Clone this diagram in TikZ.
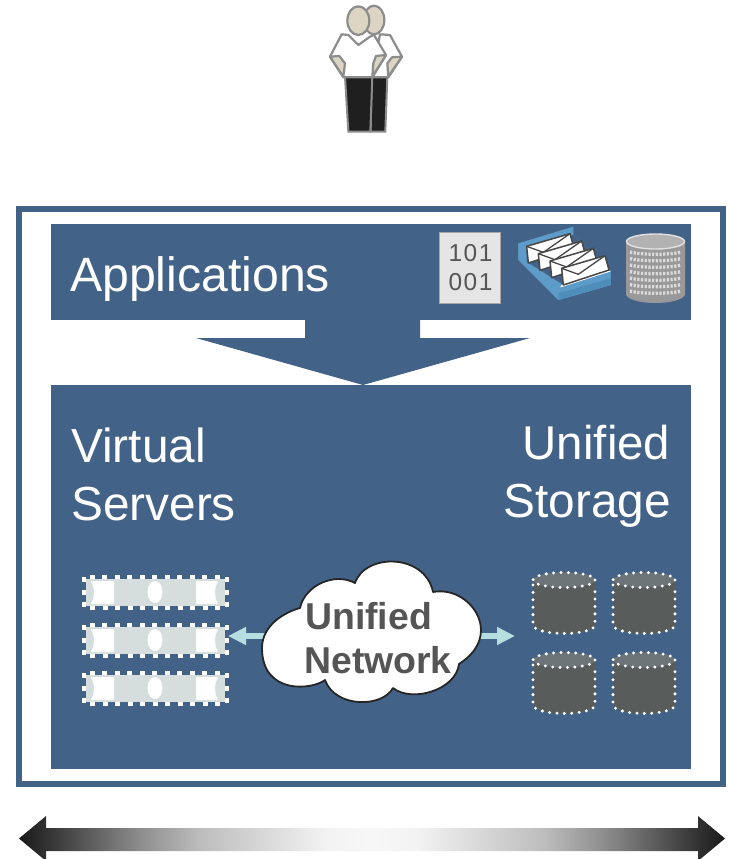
\documentclass[tikz,border=0pt]{standalone}
\usepackage{fontspec}
\setmainfont{Liberation Sans}
\newfontfamily\spacedfont[LetterSpace=6]{Liberation Sans}
\usetikzlibrary{arrows.meta}
\definecolor{panelblue}{HTML}{436287}
\definecolor{lightcyan}{HTML}{B5DEE0}
\definecolor{strip}{HTML}{D5DEDC}
\definecolor{cyl}{HTML}{585C5B}
\definecolor{cyltop}{HTML}{6C7478}
\definecolor{textgrey}{HTML}{555555}
\definecolor{skin}{HTML}{DDD5C4}
\definecolor{outlinegrey}{HTML}{8C8C8C}
\definecolor{trayblue}{HTML}{5D9CC8}
\definecolor{traydark}{HTML}{4F8DBB}
\definecolor{rangeA}{gray}{0.10}
\definecolor{rangeB}{gray}{0.20}
\definecolor{rangeC}{gray}{0.55}
\definecolor{rangeD}{gray}{0.74}
\definecolor{rangeE}{gray}{0.95}
\definecolor{rangeF}{gray}{0.97}
\pgfdeclarehorizontalshading{rangeshade}{100bp}{
  color(0bp)=(rangeA); color(25bp)=(rangeA); color(27bp)=(rangeB); color(33.5bp)=(rangeC);
  color(37.8bp)=(rangeD); color(46.7bp)=(rangeE); color(50bp)=(rangeF); color(53.3bp)=(rangeE);
  color(62.2bp)=(rangeD); color(66.5bp)=(rangeC); color(73bp)=(rangeB); color(75bp)=(rangeA); color(100bp)=(rangeA)}
\tikzset{
  x=1pt,y=-1pt,
  panel/.style={fill=panelblue,draw=none,inner sep=0pt,outer sep=0pt,anchor=north west},
  bigtext/.style={text=white,font=\fontsize{47.8}{47.8}\selectfont,inner sep=0pt},
  cloudtext/.style={text=textgrey,font=\fontsize{37.4}{37.4}\selectfont\bfseries,inner sep=0pt,anchor=base west},
  lightarrow/.style={draw=lightcyan,line width=6pt,-{Triangle[length=18pt,width=17pt]}},
  person/.style={draw=outlinegrey,line width=2.2pt,line join=round},
  dotborder/.style={draw=white,line width=3.3pt,line cap=round,dash pattern=on 0pt off 7.4pt},
  serverdots/.style={draw=white,line width=4.3pt,dash pattern=on 5pt off 7.5pt},
  envelope/.style={fill=white,draw=black!72,line width=1.5pt,line join=round},
}
\begin{document}
\begin{tikzpicture}
\useasboundingbox (0,0) rectangle (728,859);
% people
\begin{scope}[shift={(300,0)},x=0.3333pt,y=-0.3333pt]
  \filldraw[fill=black!88,draw=outlinegrey,line width=2pt] (215,230) -- (262,230) -- (256,395) -- (212,395) -- cycle;
  \filldraw[fill=white,person] (240,103) -- (270,105) -- (306,170) -- (265,232) -- (215,232) -- cycle;
  \filldraw[fill=skin,person] (276,172) -- (306,170) -- (265,230) -- (262,190) -- cycle;
  \filldraw[fill=skin,person] (222,60) ellipse [x radius=31,y radius=43];
  \filldraw[fill=black!88,draw=outlinegrey,line width=2pt] (135,230) -- (217,230) -- (211,395) -- (145,395) -- cycle;
  \filldraw[fill=white,person] (125,103) -- (90,170) -- (130,232) -- (217,232) -- (258,165) -- (222,105) -- (210,110) -- (175,135) -- (145,105) -- cycle;
  \filldraw[fill=skin,person] (118,168) -- (90,170) -- (130,230) -- (135,190) -- cycle;
  \filldraw[fill=skin,person] (228,168) -- (258,165) -- (217,230) -- (220,190) -- cycle;
  \filldraw[fill=skin,person] (175,62) ellipse [x radius=33,y radius=43];
\end{scope}
% frame
\node[draw=panelblue,line width=6pt,fill=white,inner sep=0pt,outer sep=0pt,minimum width=704pt,minimum height=575pt,anchor=north west] (frame) at (19,209) {};
% panels
\node[panel,minimum width=640pt,minimum height=96pt] (apps) at (51,224) {};
\node[panel,minimum width=640pt,minimum height=384pt] (main) at (51,385) {};
% block arrow
\fill[panelblue] (305,319) -- (420,319) -- (420,338) -- (530,338) -- (363,385) -- (196,338) -- (305,338) -- cycle;
% texts
\node[bigtext,anchor=base west,font=\fontsize{48.2}{48.2}\selectfont] (appstext) at (70,291) {Applications};
\node[bigtext,anchor=base west] (virtual) at (71,462) {Virtual};
\node[bigtext,anchor=base west] (servers) at (71,520) {Servers};
\node[bigtext,anchor=base east,font=\fontsize{47.4}{47.4}\selectfont] (unified) at (670.5,459) {Unified};
\node[bigtext,anchor=base east] (storage) at (671,517) {Storage};
% binary document icon
\node[fill=black!10,draw=black!35,line width=1.2pt,outer sep=0pt,minimum width=61pt,minimum height=71pt,inner sep=0pt,anchor=north west] (doc) at (439.5,232.5) {};
\node[text=textgrey,inner sep=0pt,align=center,font=\spacedfont\fontsize{24.5}{29}\selectfont] (bits) at (470.5,268) {101\\001};
% tray icon
\begin{scope}[shift={(510,225)},x=0.3333pt,y=-0.3333pt]
  \fill[trayblue] (25,55) -- (190,5) -- (190,30) -- (302,135) -- (302,180) -- (145,225) -- (25,105) -- cycle;
  \fill[panelblue] (190,30) -- (302,135) -- (160,180) -- (50,110) -- (48,70) -- cycle;
  \fill[white] (155,180) -- (297,137) -- (302,140) -- (150,188) -- cycle;
  \foreach \s in {3,2,1,0}{
    \begin{scope}[shift={(-35*\s,-22*\s)}]
      \filldraw[envelope] (155,130) -- (285,92) -- (297,135) -- (160,180) -- cycle;
      \draw[black!72,line width=1.3pt] (155,130) -- (205,148) -- (285,92);
    \end{scope}
  }
  \fill[trayblue] (25,55) -- (48,70) -- (50,115) -- (145,190) -- (145,225) -- (25,105) -- cycle;
  \fill[trayblue] (145,190) -- (302,140) -- (302,180) -- (145,225) -- cycle;
  \fill[traydark] (145,205) -- (302,160) -- (302,180) -- (145,225) -- cycle;
\end{scope}
% bin icon
\fill[black!40] (626,241) -- (626,294) arc [start angle=180,end angle=0,x radius=29.5,y radius=9] -- (685,241) -- cycle;
\foreach \yy in {252,258.5,265,271.5,278,284.5,291}{
  \draw[black!14,line width=3.3pt,dash pattern=on 2.2pt off 1.5pt] (630,\yy) .. controls (640,\yy+3) and (671,\yy+3) .. (681,\yy);
}
\filldraw[fill=black!30,draw=black!12,line width=1.4pt] (655.5,241.5) ellipse [x radius=29,y radius=7.5];
% servers
\foreach \dy/\nm in {0/srvA,48/srvB,96/srvC}{
  \begin{scope}[yshift=-\dy pt]
    \draw[serverdots] (83.7,577) rectangle (227,608);
    \node[fill=strip,inner sep=0pt,outer sep=0pt,minimum width=139.3pt,minimum height=26.7pt,anchor=north west] (\nm) at (85.7,579) {};
    \fill[white] (91,581) -- (114,581) -- (114,604) -- (91,604) .. controls (95,596) and (95,590) .. cycle;
    \fill[white] (218,581) -- (196,581) -- (196,604) -- (218,604) .. controls (214,596) and (214,590) .. cycle;
    \fill[white] (155,592) ellipse [x radius=7.5,y radius=11];
  \end{scope}
}
% storage
\foreach \cx/\cy/\nm in {0/0/stA,80/0/stB,0/80/stC,80/80/stD}{
  \begin{scope}[xshift=\cx pt,yshift=-\cy pt]
    \coordinate (\nm) at (564,604);
    \fill[cyl] (533,580) -- (533,626) .. controls (540,636) and (588,636) .. (595,626) -- (595,580) -- cycle;
    \fill[cyltop] (564,580) ellipse [x radius=31,y radius=7.5];
    \draw[dotborder] (564,580) ellipse [x radius=31,y radius=7.5];
    \draw[dotborder] (533,585) -- (533,626) .. controls (540,636) and (588,636) .. (595,626) -- (595,585);
  \end{scope}
}
% connectors
\coordinate (cloudL) at (270,636);
\coordinate (cloudR) at (470,636);
\coordinate (srvTip) at (228,636);
\coordinate (stoTip) at (515,636);
\draw[lightarrow] (cloudL) -- (srvTip);
\draw[lightarrow] (cloudR) -- (stoTip);
% cloud
\filldraw[fill=white,draw=black!85,line width=1.8pt,line join=round]
  (355,583) .. controls (365,553) and (425,553) .. (433,592)
  .. controls (470,585) and (505,635) .. (459,664)
  .. controls (456,690) and (412,703) .. (393,688)
  .. controls (382,708) and (335,708) .. (325,680)
  .. controls (312,690) and (262,695) .. (262,648)
  .. controls (262,625) and (285,612) .. (300,608)
  .. controls (305,585) and (335,572) .. cycle;
\node[cloudtext] (cloudA) at (305,629) {Unified};
\node[cloudtext] (cloudB) at (304,673) {Network};
% range arrow
\shade[shading=rangeshade]
  (19,838.5) -- (46,816) -- (46,828) -- (698,828) -- (698,816) -- (725,838.5) -- (698,861) -- (698,851) -- (46,851) -- (46,861) -- cycle;
\end{tikzpicture}
\end{document}
